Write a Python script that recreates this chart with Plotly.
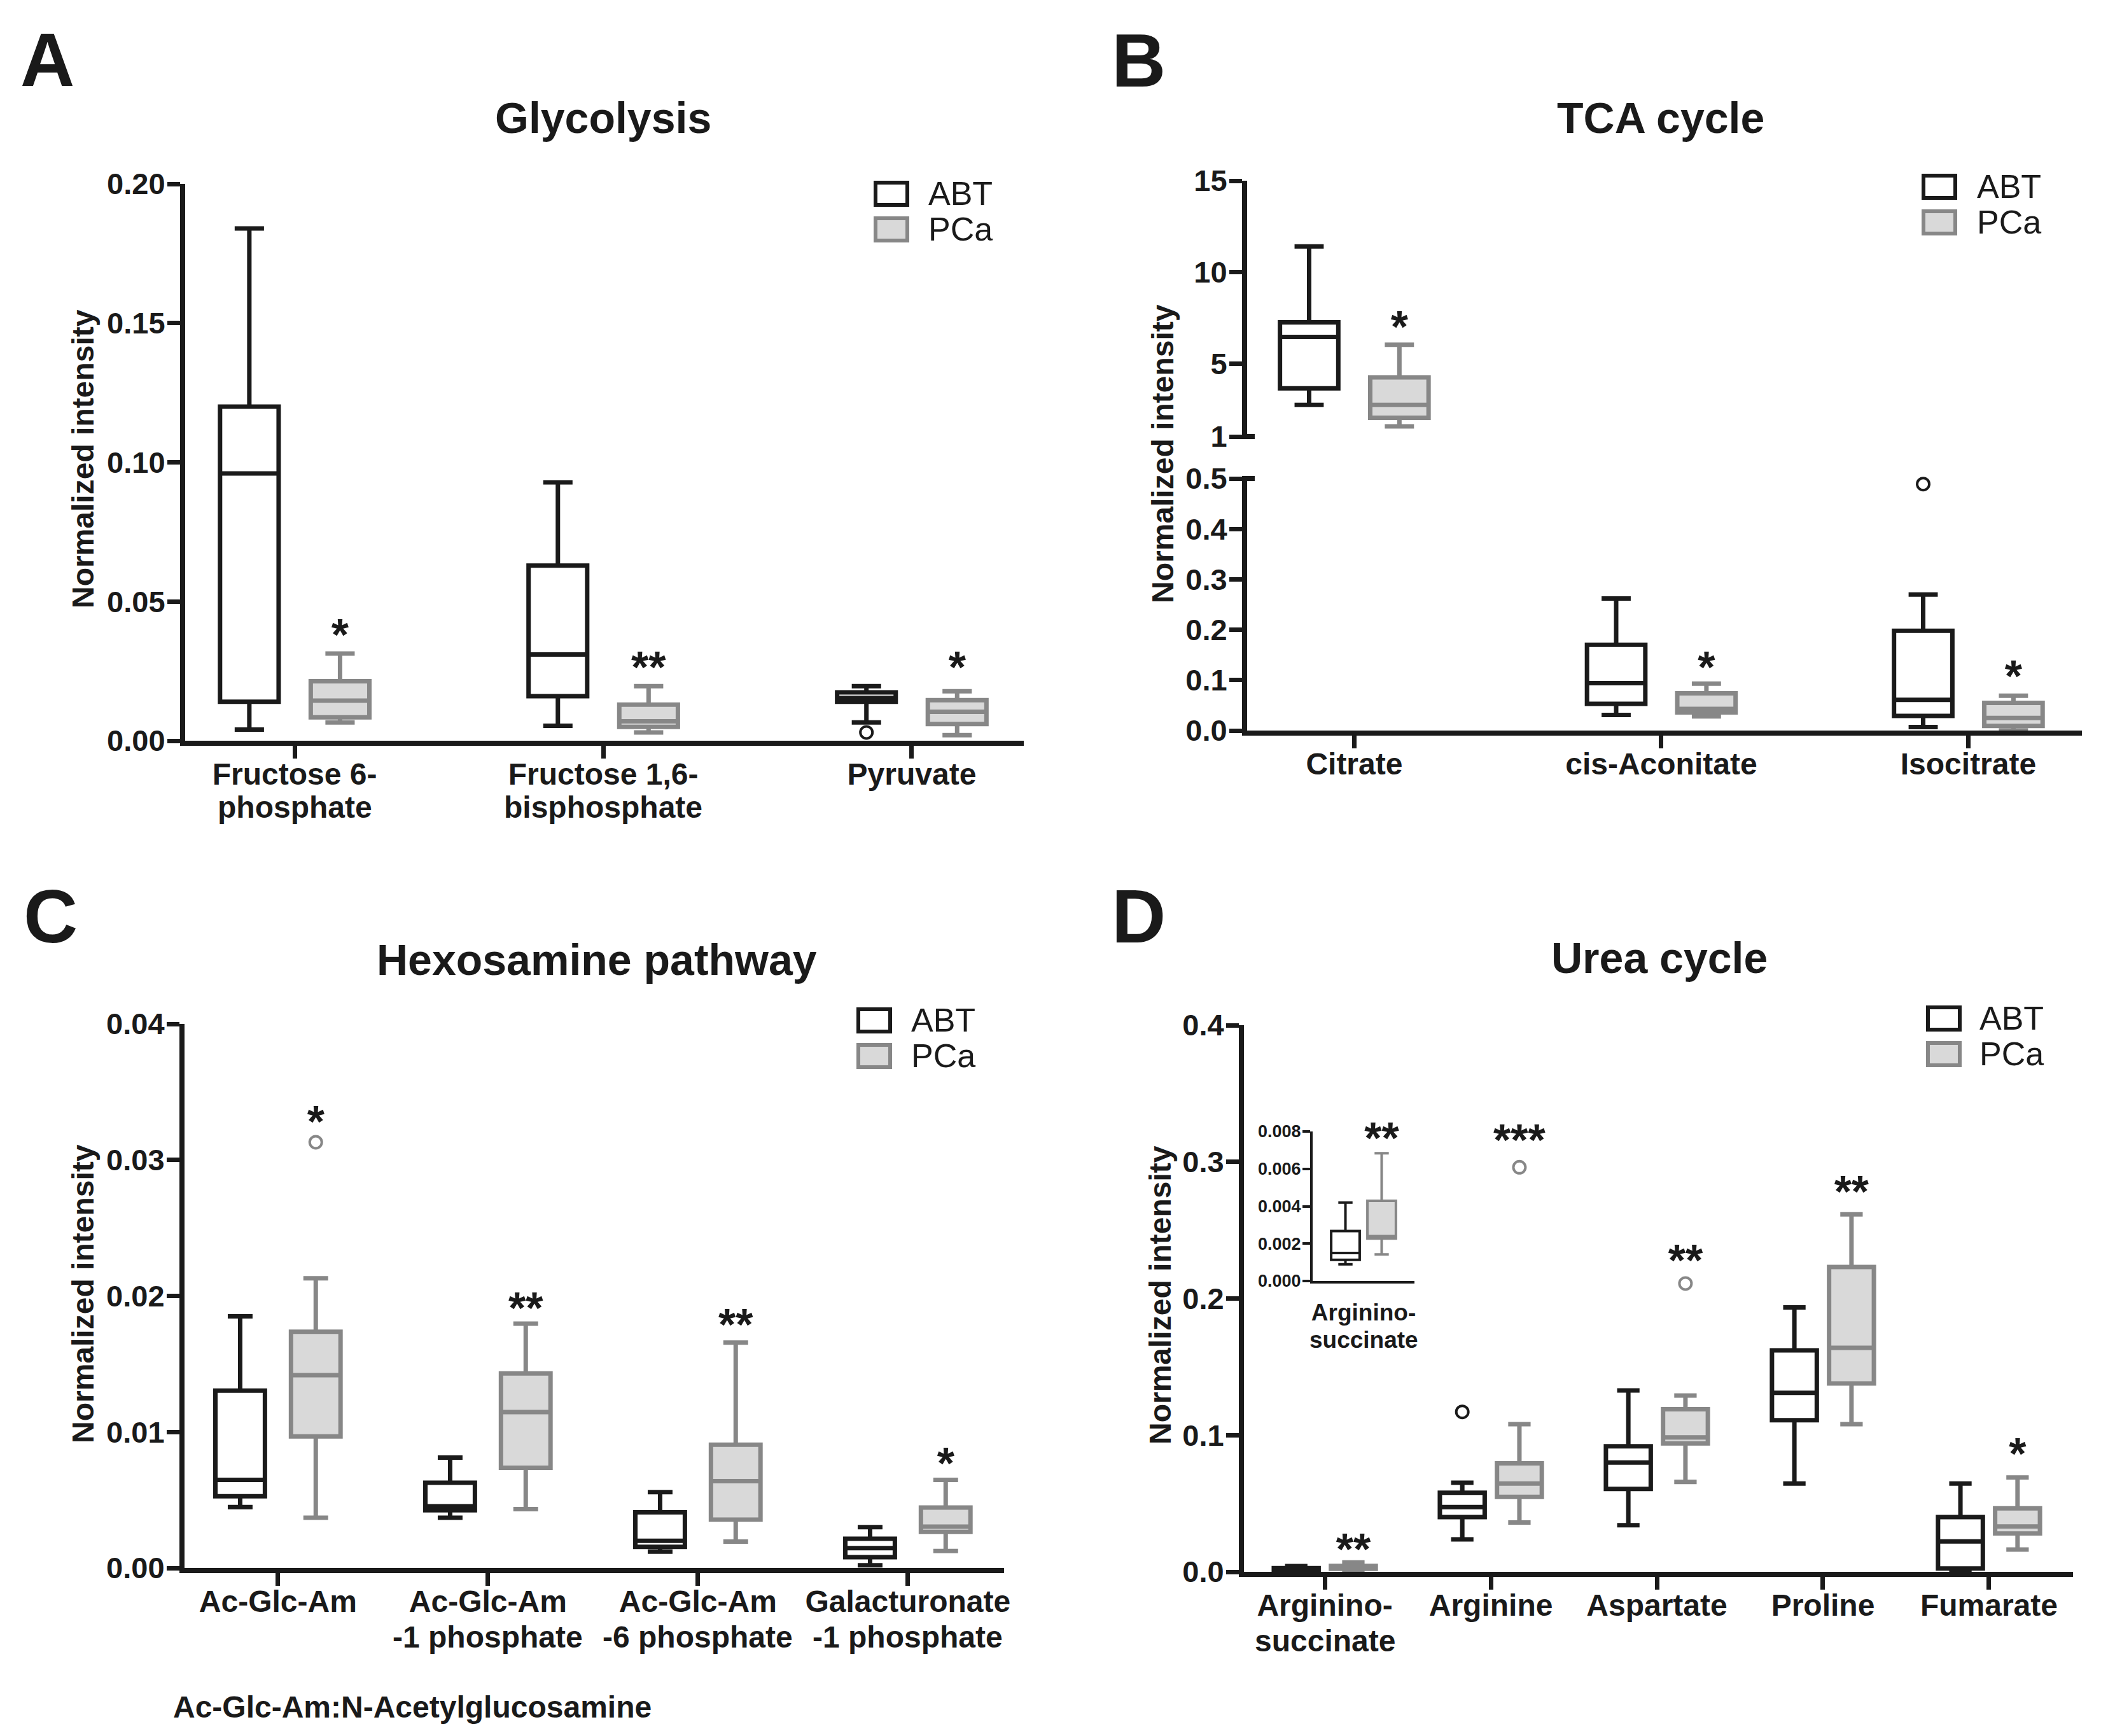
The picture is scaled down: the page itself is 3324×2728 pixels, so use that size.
import plotly.graph_objects as go

W, H = 3324, 2728
FONT = "Liberation Sans"
INK = "#1a1a1a"
PCA_LINE = "#878787"
PCA_FILL = "#d9d9d9"

# ---------------- Panel A: Glycolysis ----------------
glyc_cats = ["Fructose 6-<br>phosphate", "Fructose 1,6-<br>bisphosphate", "Pyruvate"]
glyc_abt_lo = [0.004, 0.0054, 0.0066]
glyc_abt_q1 = [0.014, 0.016, 0.014]
glyc_abt_med = [0.096, 0.031, 0.0154]
glyc_abt_q3 = [0.120, 0.0629, 0.0174]
glyc_abt_hi = [0.184, 0.0928, 0.0196]
glyc_pca_lo = [0.0066, 0.003, 0.002]
glyc_pca_q1 = [0.0084, 0.005, 0.006]
glyc_pca_med = [0.0144, 0.007, 0.0104]
glyc_pca_q3 = [0.0214, 0.013, 0.0146]
glyc_pca_hi = [0.0313, 0.0196, 0.0178]
glyc_abt_out_cat = [2]
glyc_abt_out = [0.003]
glyc_stars = ["*", "**", "*"]
glyc_star_y = [0.0365, 0.0248, 0.0248]
glyc_yticks = [0, 0.05, 0.10, 0.15, 0.20]

# ---------------- Panel B: TCA cycle ----------------
tca_cats = ["Citrate", "cis-Aconitate", "Isocitrate"]
tca_abt_lo = [2.73, 0.031, 0.007]
tca_abt_q1 = [3.64, 0.053, 0.029]
tca_abt_med = [6.45, 0.094, 0.061]
tca_abt_q3 = [7.25, 0.170, 0.198]
tca_abt_hi = [11.4, 0.262, 0.270]
tca_pca_lo = [1.56, 0.028, 0.0]
tca_pca_q1 = [2.03, 0.036, 0.009]
tca_pca_med = [2.73, 0.043, 0.025]
tca_pca_q3 = [4.24, 0.074, 0.055]
tca_pca_hi = [6.02, 0.093, 0.069]
tca_abt_out_cat = [2]
tca_abt_out = [0.489]
tca_stars = ["*", "*", "*"]
tca_star_y = [6.78, 0.117, 0.099]
tca_upper_ticks = [1, 5, 10, 15]
tca_lower_ticks = [0, 0.1, 0.2, 0.3, 0.4, 0.5]

# ---------------- Panel C: Hexosamine pathway ----------------
hex_cats = ["Ac-Glc-Am", "Ac-Glc-Am<br>-1 phosphate", "Ac-Glc-Am<br>-6 phosphate",
            "Galacturonate<br>-1 phosphate"]
hex_abt_lo = [0.00448, 0.0037, 0.0012, 0.0002]
hex_abt_q1 = [0.00528, 0.00424, 0.00155, 0.0008]
hex_abt_med = [0.00648, 0.00454, 0.0020, 0.00146]
hex_abt_q3 = [0.01304, 0.00627, 0.00409, 0.00215]
hex_abt_hi = [0.0185, 0.00812, 0.00558, 0.0030]
hex_pca_lo = [0.0037, 0.00433, 0.00194, 0.00125]
hex_pca_q1 = [0.00967, 0.00737, 0.00355, 0.00266]
hex_pca_med = [0.01418, 0.01146, 0.00639, 0.00304]
hex_pca_q3 = [0.01737, 0.0143, 0.00907, 0.00445]
hex_pca_hi = [0.0213, 0.01797, 0.01657, 0.00648]
hex_pca_out_cat = [0]
hex_pca_out = [0.0313]
hex_stars = ["*", "**", "**", "*"]
hex_star_y = [0.03248, 0.01878, 0.01758, 0.00738]
hex_yticks = [0, 0.01, 0.02, 0.03, 0.04]

# ---------------- Panel D: Urea cycle ----------------
urea_cats = ["Arginino-<br>succinate", "Arginine", "Aspartate", "Proline", "Fumarate"]
urea_abt_lo = [0.00089, 0.0237, 0.0341, 0.0646, 0.0006]
urea_abt_q1 = [0.00113, 0.040, 0.0607, 0.111, 0.0024]
urea_abt_med = [0.00150, 0.0474, 0.080, 0.131, 0.0222]
urea_abt_q3 = [0.00267, 0.0578, 0.0919, 0.162, 0.040]
urea_abt_hi = [0.0042, 0.0652, 0.1327, 0.1935, 0.0646]
urea_pca_lo = [0.00142, 0.0361, 0.0658, 0.108, 0.0163]
urea_pca_q1 = [0.00227, 0.0548, 0.0939, 0.1378, 0.0281]
urea_pca_med = [0.0024, 0.0646, 0.0984, 0.1639, 0.0332]
urea_pca_q3 = [0.00429, 0.0794, 0.119, 0.223, 0.0465]
urea_pca_hi = [0.00683, 0.108, 0.129, 0.2616, 0.069]
urea_abt_out_cat = [1]
urea_abt_out = [0.117]
urea_pca_out_cat = [1, 2]
urea_pca_out = [0.296, 0.211]
urea_stars = ["**", "***", "**", "**", "*"]
urea_star_y = [0.0133, 0.3129, 0.2245, 0.2749, 0.0829]
urea_yticks = [0, 0.1, 0.2, 0.3, 0.4]
inset_cat = 0                      # Arginino-succinate shown enlarged in the inset
inset_star_y = 0.0074
inset_yticks = [0, 0.002, 0.004, 0.006, 0.008]

fig = go.Figure()


def px(x):
    return x / W


def py(y):
    return 1 - y / H


def sel(arr, idx):
    return [arr[i] for i in idx]


def add_boxes(xa, ya, idx, offset, width, lo, q1, med, q3, hi, color, fill, lw=7):
    fig.add_trace(go.Box(
        x=[i + offset for i in idx], lowerfence=sel(lo, idx), q1=sel(q1, idx),
        median=sel(med, idx), q3=sel(q3, idx), upperfence=sel(hi, idx),
        width=width, whiskerwidth=0.5, boxpoints=False, fillcolor=fill,
        line=dict(color=color, width=lw), xaxis=xa, yaxis=ya,
        showlegend=False, hoverinfo="skip"))


def add_outliers(xa, ya, cats, vals, offset, color, size=19, lw=4):
    if not cats:
        return
    fig.add_trace(go.Scatter(
        x=[c + offset for c in cats], y=vals, mode="markers",
        marker=dict(symbol="circle-open", size=size, color=color, line=dict(width=lw, color=color)),
        xaxis=xa, yaxis=ya, showlegend=False, hoverinfo="skip", cliponaxis=False))


def add_stars(xa, ya, idx, offset, texts, ys, size=70):
    fig.add_trace(go.Scatter(
        x=[i + offset for i in idx], y=[ys[i] for i in idx], text=[texts[i] for i in idx],
        mode="text", textposition="middle center",
        textfont=dict(family=FONT, size=size, color=INK, weight="bold"),
        xaxis=xa, yaxis=ya, showlegend=False, hoverinfo="skip", cliponaxis=False))


# ---- Panel A
offA, wA = 0.147, 0.19
iA = list(range(len(glyc_cats)))
add_boxes("x", "y", iA, -offA, wA, glyc_abt_lo, glyc_abt_q1, glyc_abt_med, glyc_abt_q3, glyc_abt_hi, INK, "white")
add_boxes("x", "y", iA, offA, wA, glyc_pca_lo, glyc_pca_q1, glyc_pca_med, glyc_pca_q3, glyc_pca_hi, PCA_LINE, PCA_FILL)
add_outliers("x", "y", glyc_abt_out_cat, glyc_abt_out, -offA, INK)
add_stars("x", "y", iA, offA, glyc_stars, glyc_star_y)

# ---- Panel B (broken axis: upper segment y3, lower segment y2)
offB, wB = 0.147, 0.19
TCA_BREAK = tca_lower_ticks[-1]
iB_up = [i for i in range(len(tca_cats)) if tca_abt_lo[i] > TCA_BREAK]
iB_lo = [i for i in range(len(tca_cats)) if tca_abt_lo[i] <= TCA_BREAK]
add_boxes("x2", "y3", iB_up, -offB, wB, tca_abt_lo, tca_abt_q1, tca_abt_med, tca_abt_q3, tca_abt_hi, INK, "white")
add_boxes("x2", "y3", iB_up, offB, wB, tca_pca_lo, tca_pca_q1, tca_pca_med, tca_pca_q3, tca_pca_hi, PCA_LINE, PCA_FILL)
add_boxes("x2", "y2", iB_lo, -offB, wB, tca_abt_lo, tca_abt_q1, tca_abt_med, tca_abt_q3, tca_abt_hi, INK, "white")
add_boxes("x2", "y2", iB_lo, offB, wB, tca_pca_lo, tca_pca_q1, tca_pca_med, tca_pca_q3, tca_pca_hi, PCA_LINE, PCA_FILL)
add_outliers("x2", "y2", tca_abt_out_cat, tca_abt_out, -offB, INK)
add_stars("x2", "y3", iB_up, offB, tca_stars, tca_star_y)
add_stars("x2", "y2", iB_lo, offB, tca_stars, tca_star_y)

# ---- Panel C
offC, wC = 0.18, 0.236
iC = list(range(len(hex_cats)))
add_boxes("x3", "y4", iC, -offC, wC, hex_abt_lo, hex_abt_q1, hex_abt_med, hex_abt_q3, hex_abt_hi, INK, "white")
add_boxes("x3", "y4", iC, offC, wC, hex_pca_lo, hex_pca_q1, hex_pca_med, hex_pca_q3, hex_pca_hi, PCA_LINE, PCA_FILL)
add_outliers("x3", "y4", hex_pca_out_cat, hex_pca_out, offC, PCA_LINE)
add_stars("x3", "y4", iC, offC, hex_stars, hex_star_y)

# ---- Panel D
offD, wD = 0.172, 0.27
iD = list(range(len(urea_cats)))
add_boxes("x4", "y5", iD, -offD, wD, urea_abt_lo, urea_abt_q1, urea_abt_med, urea_abt_q3, urea_abt_hi, INK, "white")
add_boxes("x4", "y5", iD, offD, wD, urea_pca_lo, urea_pca_q1, urea_pca_med, urea_pca_q3, urea_pca_hi, PCA_LINE, PCA_FILL)
add_outliers("x4", "y5", urea_abt_out_cat, urea_abt_out, -offD, INK)
add_outliers("x4", "y5", urea_pca_out_cat, urea_pca_out, offD, PCA_LINE)
add_stars("x4", "y5", iD, offD, urea_stars, urea_star_y)

# ---- Inset (Arginino-succinate enlarged)
offI, wI = 0.178, 0.28
add_boxes("x5", "y6", [inset_cat], -offI - inset_cat, wI, urea_abt_lo, urea_abt_q1, urea_abt_med,
          urea_abt_q3, urea_abt_hi, INK, "white", lw=4)
add_boxes("x5", "y6", [inset_cat], offI - inset_cat, wI, urea_pca_lo, urea_pca_q1, urea_pca_med,
          urea_pca_q3, urea_pca_hi, PCA_LINE, PCA_FILL, lw=4)
fig.add_trace(go.Scatter(
    x=[offI], y=[inset_star_y], text=[urea_stars[inset_cat]], mode="text",
    textposition="middle center", textfont=dict(family=FONT, size=70, color=INK, weight="bold"),
    xaxis="x5", yaxis="y6", showlegend=False, hoverinfo="skip", cliponaxis=False))


# ---------------- axes ----------------
def yax(domain, anchor, rng, tickvals, fmt, lw=8, ticklen=20, tickw=7, fs=47, standoff=-6):
    return dict(domain=domain, anchor=anchor, range=rng, tickvals=tickvals, tickformat=fmt,
                showline=True, linewidth=lw, linecolor=INK, ticks="outside", ticklen=ticklen,
                tickwidth=tickw, tickcolor=INK, showgrid=False, zeroline=False, automargin=False,
                ticklabelstandoff=standoff,
                tickfont=dict(family=FONT, size=fs, color=INK, weight="bold"), fixedrange=True)


def first_line(s):
    return s.split("<br>")[0]


def xax(domain, anchor, rng, cats, lw=8, ticklen=20, tickw=7, fs=48, ticks="outside", standoff=-17):
    return dict(domain=domain, anchor=anchor, range=rng, tickvals=list(range(len(cats))),
                ticktext=[first_line(c) for c in cats], ticklabelstandoff=standoff,
                showline=True, linewidth=lw, linecolor=INK, ticks=ticks, ticklen=ticklen,
                tickwidth=tickw, tickcolor=INK, showgrid=False, zeroline=False, automargin=False,
                tickfont=dict(family=FONT, size=fs, color=INK, weight="bold"), fixedrange=True)


# x-axis lines are drawn just outside the plotting area: lift the bottoms a little
LIFT = 4
fig.update_layout(
    width=W, height=H, margin=dict(l=0, r=0, t=0, b=0, pad=0, autoexpand=False), showlegend=False,
    paper_bgcolor="white", plot_bgcolor="rgba(0,0,0,0)", boxmode="overlay",
    xaxis=xax([px(291), px(1609)], "y", [-0.355, 2.363], glyc_cats),
    yaxis=yax([py(1168 - LIFT), py(289)], "x", [0, 0.2], glyc_yticks, ".2f"),
    xaxis2=xax([px(1960), px(3272)], "y2", [-0.349, 2.37], tca_cats),
    yaxis2=yax([py(1152 - LIFT), py(752)], "x2", [0, 0.5], tca_lower_ticks, ".1f"),
    yaxis3=yax([py(686), py(284)], "x2", [1, 15], tca_upper_ticks, "d"),
    xaxis3=xax([px(290), px(1578)], "y4", [-0.445, 3.458], hex_cats),
    yaxis4=yax([py(2468 - LIFT), py(1609)], "x3", [0, 0.04], hex_yticks, ".2f"),
    xaxis4=xax([px(1955), px(3258)], "y5", [-0.487, 4.506], urea_cats),
    yaxis5=yax([py(2474 - LIFT), py(1611)], "x4", [0, 0.4], urea_yticks, ".1f"),
    xaxis5=xax([px(2063), px(2223)], "y6", [-0.5, 0.5], [urea_cats[inset_cat]], lw=4, fs=37,
               ticks="", standoff=14),
    yaxis6=yax([py(2013), py(1778)], "x5", [0, 0.008], inset_yticks, ".3f", lw=4, ticklen=12,
               tickw=3.5, fs=27, standoff=-3),
)

# ---------------- text: panel letters, titles, axis titles, footnote ----------------
ann = []


def text(x, y, s, size, weight="bold", xanchor="center", yanchor="middle", angle=0,
         xref="paper"):
    ann.append(dict(x=(px(x) if xref == "paper" else x), y=py(y), xref=xref, yref="paper",
                    text=s, showarrow=False, xanchor=xanchor, yanchor=yanchor, textangle=angle,
                    font=dict(family=FONT, size=size, color=INK, weight=weight)))


# second lines of the two-line category labels (tight line spacing as in the original)
for (xref, axis_y, cats, gap, fs) in [("x", 1168, glyc_cats, 100, 48), ("x2", 1152, tca_cats, 100, 48),
                                      ("x3", 2468, hex_cats, 104, 48), ("x4", 2474, urea_cats, 104, 48),
                                      ("x5", 2013, [urea_cats[inset_cat]], 92, 37)]:
    for i, c in enumerate(cats):
        parts = c.split("<br>")
        if len(parts) > 1:
            text(i, axis_y + gap, parts[1], fs, xref=xref)

for (x, y, s) in [(30, 94, "A"), (1745, 95, "B"), (35, 1440, "C"), (1745, 1440, "D")]:
    text(x, y, s, 118, xanchor="left")

for (x, y, s) in [(948, 185, "Glycolysis"), (2610, 185, "TCA cycle"),
                  (938, 1508, "Hexosamine pathway"), (2608, 1505, "Urea cycle")]:
    text(x, y, s, 68)

for (x, y) in [(130, 721), (1827, 713), (130, 2033), (1823, 2035)]:
    text(x, y, "Normalized intensity", 48, angle=-90)

text(270, 2682, "Ac-Glc-Am:N-Acetylglucosamine", 48, xanchor="left")

# legends
shapes = []
for (bx, by, tx) in [(1376, 287, 1457), (3023, 276, 3105), (1349, 1586, 1430), (3030, 1583, 3109)]:
    for k, (name, lc, fc) in enumerate([("ABT", INK, "white"), ("PCa", PCA_LINE, PCA_FILL)]):
        y0 = by + k * 56
        shapes.append(dict(type="rect", xref="paper", yref="paper", x0=px(bx), x1=px(bx + 50),
                           y0=py(y0 + 35), y1=py(y0), line=dict(color=lc, width=6), fillcolor=fc))
        text(tx, y0 + 17, name, 52, weight="normal", xanchor="left")

# axis-break marks on panel B
for yb in [686, 752]:
    shapes.append(dict(type="line", xref="paper", yref="paper", x0=px(1952), x1=px(1972),
                       y0=py(yb), y1=py(yb), line=dict(color=INK, width=8)))

fig.update_layout(annotations=ann, shapes=shapes)

# the figure fills the whole window: drop the page's default body margin so nothing scrolls
fig.write_html(
    "out.html",
    config={"displayModeBar": False},
    post_script="document.body.style.margin='0';document.body.style.overflow='hidden';"
                "document.documentElement.style.overflow='hidden';",
)
